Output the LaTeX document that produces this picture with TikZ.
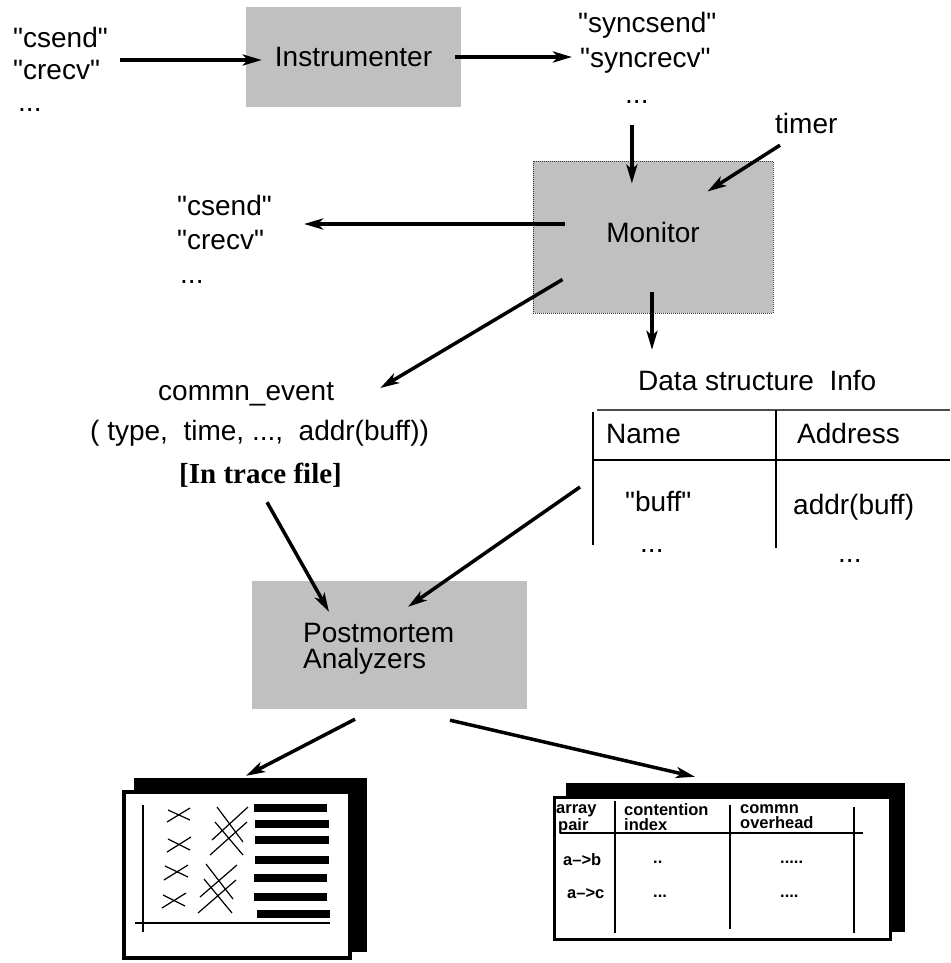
\documentclass[tikz,border=0pt]{standalone}
\usepackage{fontspec}
\setmainfont{Liberation Sans}
\newfontfamily\tracefont{Liberation Serif}
\usetikzlibrary{arrows.meta}
\definecolor{boxgray}{RGB}{192,192,192}

\begin{document}
\begin{tikzpicture}[x=1pt,y=-1pt,
		txt/.style={anchor=base west, inner sep=0pt, text height=20pt, text depth=6pt, font=\fontsize{28}{32}\selectfont},
		small/.style={anchor=base west, inner sep=0pt, align=left, font=\fontsize{16.5}{14.5}\selectfont\bfseries},
		greybox/.style={fill=boxgray, inner sep=0pt, font=\fontsize{28}{32}\selectfont},
		arr/.style={line width=3.5pt, -{Stealth[length=19pt, width=11pt, inset=5pt]}}]
			\def \thin{ 1.5pt };
			\def \q{\textquotedbl};
			\useasboundingbox (0,0) rectangle (950,963);
			% boxes
			\node[greybox, minimum width=215pt, minimum height=100pt] (instr) at (353.5,57) {Instrumenter};
			\node[greybox, draw=black!80, densely dotted, line width=1pt, text depth=10pt, minimum width=240pt, minimum height=152pt] (monitor) at (653,237) {Monitor};
			\node[greybox, minimum width=275pt, minimum height=128pt] (post) at (389.5,645) {};
			\node[anchor=base west, inner sep=0pt, align=left, font=\fontsize{28}{26}\selectfont] (postlbl) at (303,668) {Postmortem\\Analyzers};
			% call names
			\node[txt] (callsa) at (13,48) {\q csend\q};
			\node[txt] (callsb) at (13,80) {\q crecv\q};
			\node[txt] (callsc) at (18,112) {...};
			\node[txt] (synca) at (578,33) {\q syncsend\q};
			\node[txt] (syncb) at (580,68) {\q syncrecv\q};
			\node[txt] (syncc) at (625,103) {...};
			\node[txt] (timer) at (775,133) {timer};
			\node[txt] (dupa) at (177,215) {\q csend\q};
			\node[txt] (dupb) at (177,249) {\q crecv\q};
			\node[txt] (dupc) at (180,283) {...};
			% trace record
			\node[txt] (event) at (158,400) {commn\_event};
			\node[txt] (tuple) at (90,440) {( type,~ time, ...,~ addr(buff))};
			\node[txt, font={\tracefont\bfseries\fontsize{29}{32}\selectfont}] (trace) at (179,483) {[In trace file]};
			% data structure table
			\node[txt] (dsinfo) at (638,390) {Data structure~ Info};
			\node[txt] (name) at (606,443) {Name};
			\node[txt] (address) at (797,443) {Address};
			\node[txt] (buff) at (625,511) {\q buff\q};
			\node[txt] (addrbuff) at (793,514) {addr(buff)};
			\node[txt] (dsdotsa) at (640,552) {...};
			\node[txt] (dsdotsb) at (838,562) {...};
			\draw[line width=\thin, black!70] (597,410) -- (950,410);
			\draw[line width=\thin] (593,412) -- (593,545);
			\draw[line width=\thin] (776,410) -- (776,548);
			\draw[line width=\thin] (593,460) -- (950,460);
			% output sheets
			\node[fill=black, inner sep=0pt, minimum width=233pt, minimum height=174pt] (plotback) at (250.5,865) {};
			\node[draw=black, fill=white, line width=4pt, inner sep=0pt, minimum width=226pt, minimum height=166pt] (plot) at (237,875) {};
			\node[fill=black, inner sep=0pt, minimum width=339pt, minimum height=149pt] (repback) at (735.5,857.5) {};
			\node[draw=black, fill=white, line width=3pt, inner sep=0pt, minimum width=336pt, minimum height=142pt] (report) at (722.5,868.5) {};
			% plot sheet
			\draw[line width=1.2pt] (143,805) -- (143,932);
			\draw[line width=1.2pt] (135,923) -- (330,923);
			\draw[line width=1.2pt] (167,822) -- (190,808);
			\draw[line width=1.2pt] (168,810) -- (190,820);
			\draw[line width=1.2pt] (167,852) -- (191,837);
			\draw[line width=1.2pt] (168,839) -- (190,850);
			\draw[line width=1.2pt] (164,880) -- (188,865);
			\draw[line width=1.2pt] (165,866) -- (188,877);
			\draw[line width=1.2pt] (162,908) -- (186,893);
			\draw[line width=1.2pt] (163,895) -- (185,906);
			\draw[line width=1.2pt] (217,807) -- (243,842);
			\draw[line width=1.2pt] (215,822) -- (243,855);
			\draw[line width=1.2pt] (212,840) -- (248,807);
			\draw[line width=1.2pt] (210,855) -- (247,822);
			\draw[line width=1.2pt] (206,864) -- (233,899);
			\draw[line width=1.2pt] (204,879) -- (232,913);
			\draw[line width=1.2pt] (200,897) -- (237,865);
			\draw[line width=1.2pt] (198,913) -- (236,880);
			\fill (254,804) rectangle (327,812);
			\fill (255,820) rectangle (329,828);
			\fill (255,836) rectangle (329,844);
			\fill (255,856) rectangle (329,864);
			\fill (254,874) rectangle (327,882);
			\fill (254,893) rectangle (327,901);
			\fill (257,910) rectangle (330,918);
			% report sheet
			\draw[line width=\thin] (615,801) -- (615,933);
			\draw[line width=\thin] (730,805) -- (730,929);
			\draw[line width=\thin] (854,807) -- (854,933);
			\draw[line width=\thin] (560,833) -- (863,833);
			\node[small] (arr) at (556,830) {array\\\hspace*{2pt}pair};
			\node[small] (cont) at (624,830) {contention\\index};
			\node[small] (comm) at (740,828) {commn\\overhead};
			\node[small] (pairAB) at (563,865) {a\textendash>b};
			\node[small] (pairAC) at (567,898) {a\textendash>c};
			\node[small] (dotsAB) at (653,863) {..};
			\node[small] (dotsAC) at (653,897) {...};
			\node[small] (ovAB) at (780,863) {.....};
			\node[small] (ovAC) at (780,897) {....};
			% connectors
			\draw[arr] ([shift={(12,3)}]callsa.east |- instr.west) -- ([shift={(16,3)}]instr.west);
			\draw[arr] ([xshift=-6pt]instr.east) -- ([xshift=-8pt]syncb.west |- instr.east);
			\draw[arr] ([shift={(-5,16)}]syncc.south) -- ([shift={(-5,23)}]syncc.south |- monitor.north);
			\draw[arr] ([shift={(5,6)}]timer.south west) -- ([shift={(-66,31)}]monitor.north east);
			\draw[arr] ([shift={(32,-13)}]monitor.west) -- ([shift={(32,-13)}]dupa.east |- monitor.west);
			\draw[arr] ([shift={(30,-34)}]monitor.south west) -- ([shift={(46,-5)}]event.east);
			\draw[arr] ([shift={(-1,-22)}]monitor.south) -- ([shift={(-1,-20)}]monitor.south |- dsinfo.north);
			\draw[arr] ([shift={(6.5,13)}]trace.south) -- ([shift={(-60.5,31)}]post.north);
			\draw[arr] ([shift={(-45,-17)}]buff.west) -- ([shift={(18.5,26)}]post.north);
			\draw[arr] ([shift={(-34.5,10)}]post.south) -- ([shift={(-4.5,-2)}]plotback.north);
			\draw[arr] ([shift={(60.5,11)}]post.south) -- ([shift={(-40.5,-6)}]repback.north);
		\end{tikzpicture}
\end{document}
